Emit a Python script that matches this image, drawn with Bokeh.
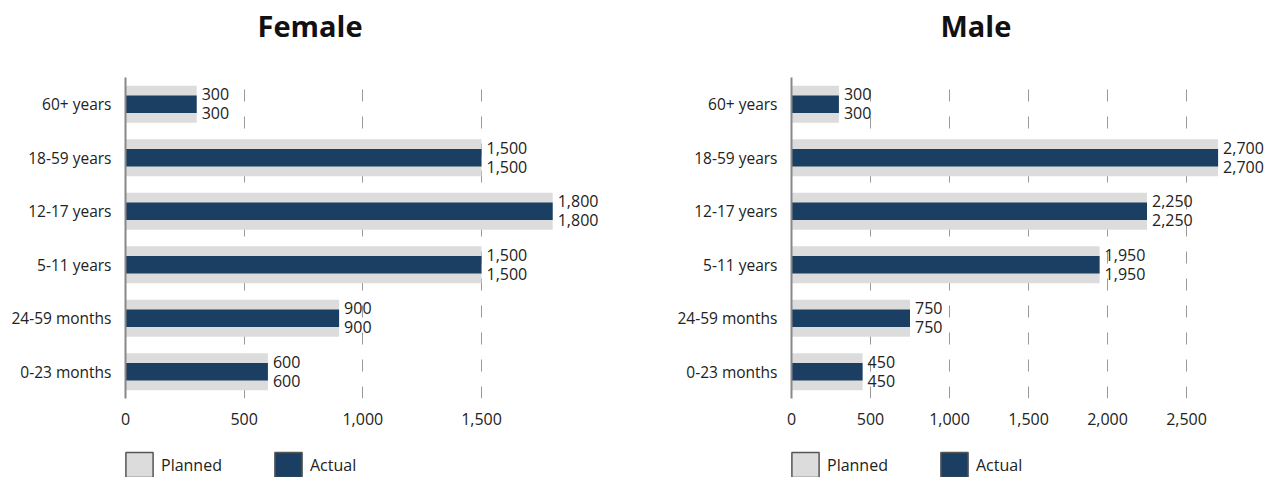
from bokeh.plotting import figure
from bokeh.models import (ColumnDataSource, FactorRange, Range1d, FixedTicker,
                          NumeralTickFormatter, Legend, LegendItem, Label)
from bokeh.layouts import row, column
from bokeh.embed import file_html
from bokeh.resources import INLINE
from bokeh.core.properties import value

categories = ["0-23 months", "24-59 months", "5-11 years", "12-17 years", "18-59 years", "60+ years"]
female_planned = [600, 900, 1500, 1800, 1500, 300]
female_actual = [600, 900, 1500, 1800, 1500, 300]
male_planned = [450, 750, 1950, 2250, 2700, 300]
male_actual = [450, 750, 1950, 2250, 2700, 300]
female_ticks = [0, 500, 1000, 1500]
male_ticks = [0, 500, 1000, 1500, 2000, 2500]
legend_labels = ["Planned", "Actual"]
titles = ["Female", "Male"]

FONT = "Open Sans"
PLANNED = "#dcdcdc"
ACTUAL = "#1b3f62"
TXT = "#222222"


def blank_fig(width, height):
    b = figure(width=width, height=height, output_backend="svg", toolbar_location=None,
               x_range=Range1d(0, 1), y_range=Range1d(0, 1),
               x_axis_location=None, y_axis_location=None,
               min_border_left=0, min_border_right=0, min_border_top=0, min_border_bottom=0)
    b.outline_line_color = None
    b.xgrid.visible = False
    b.ygrid.visible = False
    return b


def make_title(text, width, x):
    t = blank_fig(width, 50)
    t.add_layout(Label(x=x, y=25, x_units="screen", y_units="screen", text=text,
                       text_font=FONT, text_font_size="29px", text_font_style="bold",
                       text_color="#111111", text_baseline="middle", text_align="left"))
    return t


def make_panel(src, ticks, x_end, width):
    p = figure(width=width, height=395, y_range=FactorRange(*categories, range_padding=0),
               x_range=Range1d(0, x_end), output_backend="svg", toolbar_location=None,
               min_border_left=125, min_border_right=0, min_border_top=27,
               min_border_bottom=47)
    p.outline_line_color = None
    p.background_fill_color = "white"
    p.border_fill_color = "white"

    p.hbar(y="cat", right="planned", height=0.69, left=0, source=src,
           fill_color=PLANNED, line_color=None)
    p.hbar(y="cat", right="actual", height=0.33, left=0, source=src,
           fill_color=ACTUAL, line_color=None)
    p.text(x="planned", y="cat", text="planned_lbl", source=src, x_offset=5, y_offset=-10,
           text_font=value(FONT), text_font_size="16px", text_color=TXT,
           text_baseline="middle", text_align="left")
    p.text(x="actual", y="cat", text="actual_lbl", source=src, x_offset=5, y_offset=9,
           text_font=value(FONT), text_font_size="16px", text_color=TXT,
           text_baseline="middle", text_align="left")

    p.xaxis.ticker = FixedTicker(ticks=ticks)
    p.xaxis.formatter = NumeralTickFormatter(format="0,0")
    p.xaxis.axis_line_color = None
    p.xaxis.major_tick_line_color = None
    p.xaxis.major_tick_out = 0
    p.xaxis.major_tick_in = 0
    p.xaxis.minor_tick_line_color = None
    p.xaxis.minor_tick_out = 0
    p.xaxis.major_label_standoff = 14
    p.xaxis.major_label_text_font = FONT
    p.xaxis.major_label_text_font_size = "16px"
    p.xaxis.major_label_text_color = TXT

    p.yaxis.axis_line_color = "#888888"
    p.yaxis.axis_line_width = 2
    p.yaxis.major_tick_line_color = None
    p.yaxis.major_tick_out = 0
    p.yaxis.major_tick_in = 0
    p.yaxis.minor_tick_line_color = None
    p.yaxis.major_label_standoff = 14
    p.yaxis.major_label_text_font = FONT
    p.yaxis.major_label_text_font_size = "15.5px"
    p.yaxis.major_label_text_color = TXT

    p.ygrid.grid_line_color = None
    p.xgrid.ticker = FixedTicker(ticks=ticks[1:])
    p.xgrid.grid_line_color = "#999999"
    p.xgrid.grid_line_width = 1
    p.xgrid.grid_line_dash = "12 15"
    return p


def make_legend(src, width):
    lp = blank_fig(width, 32)
    # swatch renderers: data lies outside the 0..1 ranges, so only the legend shows
    r1 = lp.rect(x="planned", y="actual", width=1, height=1, source=src,
                 fill_color=PLANNED, line_color="#555555", line_width=1.5)
    r2 = lp.rect(x="actual", y="planned", width=1, height=1, source=src,
                 fill_color=ACTUAL, line_color="#555555", line_width=1.5)
    legend = Legend(items=[LegendItem(label=legend_labels[0], renderers=[r1]),
                           LegendItem(label=legend_labels[1], renderers=[r2])],
                    orientation="horizontal", location=(122, -3),
                    glyph_width=34, glyph_height=31, label_standoff=5, spacing=49,
                    padding=0, margin=0, border_line_color=None, background_fill_alpha=0,
                    label_text_font=FONT, label_text_font_size="16px", label_text_color=TXT)
    lp.add_layout(legend, "center")
    return lp


def source(planned, actual):
    return ColumnDataSource(dict(
        cat=categories, planned=planned, actual=actual,
        planned_lbl=[f"{v:,}" for v in planned],
        actual_lbl=[f"{v:,}" for v in actual],
    ))


fs = source(female_planned, female_actual)
ms = source(male_planned, male_actual)

layout = column(
    row(make_title(titles[0], 666, 257), make_title(titles[1], 600, 274)),
    row(make_panel(fs, female_ticks, 541 / 0.237333, 666),
        make_panel(ms, male_ticks, 475 / 0.158, 600)),
    row(make_legend(fs, 666), make_legend(ms, 600)),
)
open("out.html", "w").write(file_html(layout, INLINE))
